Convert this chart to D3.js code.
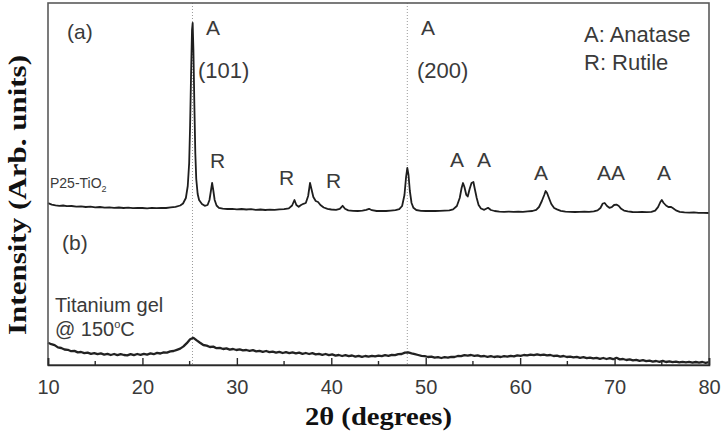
<!DOCTYPE html>
<html>
<head>
<meta charset="utf-8">
<script src="https://cdn.jsdelivr.net/npm/d3@7"></script>
<style>
  body { margin: 0; background: #fff; }
  text { font-family: "Liberation Sans", Arial, sans-serif; fill: #3a3a3a; }
</style>
</head>
<body>
<div id="chart"></div>
<script>
// 2theta range and ticks
var xTicks = [10, 20, 30, 40, 50, 60, 70, 80];
var xMinorTicks = [15, 25, 35, 45, 55, 65, 75];
var refLines = [25.3, 48.05];   // anatase (101) and (200)

// (a) P25-TiO2 : [2theta, counts]
var patternA = [
  [10.0,118],[10.4,104],[10.8,96],[11.2,92],[11.6,95],[12.0,88],[12.5,90],[13.0,84],[13.5,86],[14.0,80],
  [14.5,83],[15.0,76],[15.5,80],[16.0,74],[16.5,77],[17.0,72],[17.5,75],[18.0,70],[18.5,73],[19.0,68],
  [19.5,72],[20.0,70],[20.5,66],[21.0,71],[21.5,68],[22.0,72],[22.5,70],[23.0,76],[23.5,82],[24.0,95],
  [24.3,115],[24.6,170],[24.8,290],[24.95,520],[25.05,900],[25.15,1400],[25.25,1850],[25.32,1920],[25.4,1650],[25.5,1100],
  [25.6,620],[25.7,360],[25.85,210],[26.0,150],[26.3,110],[26.6,92],[26.9,100],[27.1,150],[27.25,240],[27.38,320],
  [27.5,250],[27.65,150],[27.85,95],[28.1,72],[28.5,64],[29.0,60],[29.5,62],[30.0,57],[30.5,60],[31.0,55],
  [31.5,58],[32.0,52],[32.5,55],[33.0,50],[33.5,54],[34.0,52],[34.5,56],[35.0,58],[35.5,66],[35.85,95],
  [36.1,150],[36.3,100],[36.55,82],[36.8,100],[37.05,112],[37.3,120],[37.55,190],[37.75,320],[37.9,260],[38.1,180],
  [38.35,140],[38.6,130],[38.85,100],[39.2,75],[39.6,62],[40.0,55],[40.5,52],[40.9,62],[41.2,92],[41.45,62],
  [41.8,46],[42.3,42],[42.8,40],[43.3,44],[43.7,52],[44.0,62],[44.3,48],[44.8,40],[45.3,42],[45.8,40],
  [46.3,44],[46.8,48],[47.2,58],[47.5,90],[47.75,200],[47.92,380],[48.05,470],[48.18,400],[48.32,240],[48.5,120],
  [48.7,72],[49.0,50],[49.5,42],[50.0,40],[50.5,42],[51.0,40],[51.5,42],[52.0,44],[52.5,46],[52.9,56],
  [53.3,90],[53.6,170],[53.8,270],[53.95,320],[54.1,280],[54.3,200],[54.45,185],[54.65,260],[54.85,320],[55.05,330],
  [55.2,260],[55.4,170],[55.6,100],[55.85,65],[56.2,52],[56.6,72],[56.9,50],[57.3,40],[57.8,34],[58.3,32],
  [58.8,34],[59.3,32],[59.8,34],[60.3,32],[60.8,36],[61.3,40],[61.7,52],[62.0,80],[62.3,140],[62.55,200],
  [62.7,240],[62.85,220],[63.05,170],[63.3,110],[63.6,70],[63.9,56],[64.3,42],[64.8,34],[65.3,32],[65.8,30],
  [66.3,32],[66.8,34],[67.3,32],[67.8,36],[68.2,46],[68.5,70],[68.75,115],[68.95,120],[69.2,90],[69.45,72],
  [69.7,78],[69.95,100],[70.2,104],[70.45,90],[70.7,62],[71.0,44],[71.4,36],[71.9,30],[72.4,28],[72.9,30],
  [73.4,28],[73.9,32],[74.3,44],[74.6,78],[74.85,130],[75.0,150],[75.2,120],[75.45,95],[75.7,80],[75.95,82],
  [76.2,68],[76.5,46],[76.9,32],[77.4,26],[77.9,24],[78.4,26],[78.9,22],[79.4,22],[80.0,20]
];

// (b) titanium gel @150C : scan from 10 deg, step 0.35 deg
var scanStartB = 10, scanStepB = 0.35;
var countsB = [
  222,208,199,176,170,155,152,138,141,126, 130,118,124,112,119,108,116,104,111,100,
  110,98,108,100,96,109,98,110,102,112, 104,116,108,121,115,126,124,136,140,152,
  164,186,218,258,272,246,222,200,194,180, 184,168,172,160,166,154,160,150,156,146,
  150,142,148,136,142,132,140,128,134,124, 132,120,128,118,126,116,124,112,120,110,
  118,106,112,102,110,98,106,94,100,90, 98,88,95,84,92,82,90,84,92,86,
  94,88,98,92,102,98,108,110,124,126, 116,108,100,92,88,80,84,74,78,70,
  78,74,82,80,90,88,98,94,100,92, 96,86,90,82,88,80,86,80,88,84,
  92,86,96,92,100,96,104,98,106,98, 104,96,100,90,94,84,90,80,84,76,
  82,72,78,68,74,66,72,62,70,60, 68,58,72,56,60,50,56,46,52,42,
  48,38,44,34,40,32,42,30,36,28, 34,26,32,26,32,24,30,24,30,22,
  28
];
var patternB = countsB.map(function(c, i) { return [scanStartB + i * scanStepB, c]; });

var offsetA = 1500;  // vertical stacking of pattern (a)

var width = 728, height = 432;
var margin = { left: 48, right: 19, top: 3, bottom: 67 };

var svg = d3.select("#chart").append("svg")
  .attr("width", width)
  .attr("height", height);

var x = d3.scaleLinear().domain([10, 80]).range([margin.left, width - margin.right]);
var y = d3.scaleLinear().domain([0, 3620]).range([height - margin.bottom, margin.top]);

var x0 = margin.left, x1 = width - margin.right, y0 = height - margin.bottom, y1 = margin.top;

// dotted reference lines
svg.selectAll(".ref").data(refLines).enter().append("line")
  .attr("class", "ref")
  .attr("x1", function(d) { return x(d); }).attr("x2", function(d) { return x(d); })
  .attr("y1", y1).attr("y2", y0)
  .attr("stroke", "#9a9a9a").attr("stroke-width", 1).attr("stroke-dasharray", "1,2");

var line = d3.line()
  .x(function(d) { return x(d[0]); })
  .y(function(d) { return y(d[1]); });

svg.append("path")
  .datum(patternA.map(function(d) { return [d[0], d[1] + offsetA]; }))
  .attr("d", line)
  .attr("fill", "none").attr("stroke", "#1e1e1e").attr("stroke-width", 1.8).attr("stroke-linejoin", "round");

svg.append("path")
  .datum(patternB)
  .attr("d", line)
  .attr("fill", "none").attr("stroke", "#222").attr("stroke-width", 2.3).attr("stroke-linejoin", "round");

// frame
svg.append("rect")
  .attr("x", x0).attr("y", y1).attr("width", x1 - x0).attr("height", y0 - y1)
  .attr("fill", "none").attr("stroke", "#5a5a5a").attr("stroke-width", 1.6);

// bottom axis, ticks pointing inward
var xAxis = d3.axisBottom(x).tickValues(xTicks).tickSize(-7).tickPadding(15).tickFormat(d3.format("d"));
var gx = svg.append("g").attr("transform", "translate(0," + y0 + ")").call(xAxis);
gx.select(".domain").attr("stroke", "#2a2a2a").attr("stroke-width", 1.6);
gx.selectAll(".tick line").attr("stroke", "#2a2a2a").attr("stroke-width", 1.4);
gx.selectAll(".tick text").attr("font-size", 20).attr("fill", "#333")
  .style("font-family", "'Liberation Sans', Arial, sans-serif");

svg.append("g").selectAll("line").data(xMinorTicks).enter().append("line")
  .attr("x1", function(d) { return x(d); }).attr("x2", function(d) { return x(d); })
  .attr("y1", y0).attr("y2", y0 - 4)
  .attr("stroke", "#2a2a2a").attr("stroke-width", 1.4);

// axis titles
svg.append("text")
  .attr("x", (x0 + x1) / 2).attr("y", 425)
  .attr("text-anchor", "middle")
  .attr("textLength", 147).attr("lengthAdjust", "spacingAndGlyphs")
  .style("font-family", "'Liberation Serif', 'Times New Roman', serif")
  .style("font-weight", "bold").style("font-size", "25px").style("fill", "#111")
  .text("2\u03B8 (degrees)");

svg.append("text")
  .attr("transform", "translate(26,195) rotate(-90)")
  .attr("text-anchor", "middle")
  .attr("textLength", 280).attr("lengthAdjust", "spacingAndGlyphs")
  .style("font-family", "'Liberation Serif', 'Times New Roman', serif")
  .style("font-weight", "bold").style("font-size", "26px").style("fill", "#111")
  .text("Intensity (Arb. units)");

// annotations
function label(txt, px, py, size) {
  return svg.append("text").attr("x", px).attr("y", py)
    .style("font-size", (size || 21) + "px").text(txt);
}
label("(a)", 67, 39);
label("A", 206, 35);
label("(101)", 198, 78, 22);
label("R", 210, 168);
label("R", 279, 185);
label("R", 326, 188);
label("A", 421, 35);
label("(200)", 417, 78, 22);
label("A", 450, 167);
label("A", 477, 167);
label("A", 534, 180);
label("AA", 597, 180);
label("A", 657, 180);
label("A: Anatase", 584, 42, 22);
label("R: Rutile", 584, 70, 22);
label("(b)", 62, 250);
label("Titanium gel", 55, 312, 20);

var p25 = label("P25-TiO", 50, 188, 14);
p25.append("tspan").attr("dy", 4).style("font-size", "9px").text("2");

var gel = label("@ 150", 55, 336, 20);
gel.append("tspan").attr("dy", -8).style("font-size", "11px").text("o");
gel.append("tspan").attr("dy", 8).text("C");
</script>
</body>
</html>
